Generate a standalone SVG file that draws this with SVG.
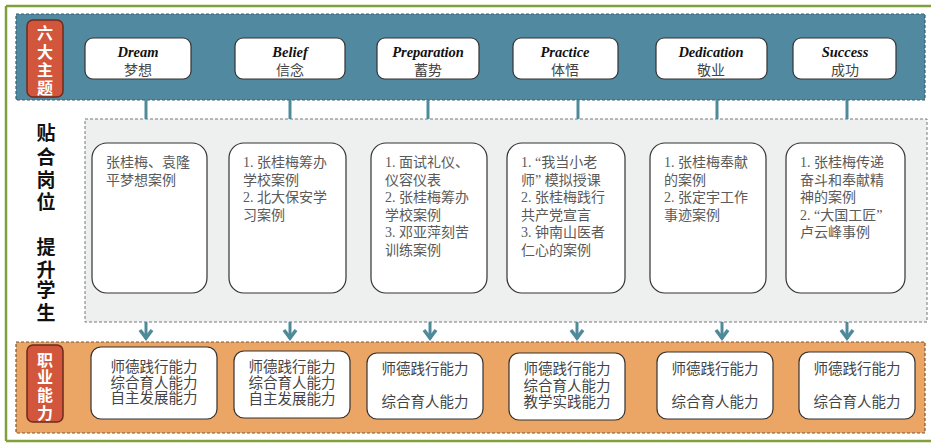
<svg xmlns="http://www.w3.org/2000/svg" width="931" height="444" viewBox="0 0 931 444">
<defs>
<style>
.frame{stroke:#7fa03a;stroke-width:2.5;fill:none}
.band-blue{fill:#5189a0;stroke:#3b5e6e;stroke-width:1.2;stroke-dasharray:3 2}
.band-orange{fill:#eba565;stroke:#6e5a48;stroke-width:1.2;stroke-dasharray:3 2}
.mid{fill:#eef0f0;stroke:#777;stroke-width:1;stroke-dasharray:3 2}
.tag{fill:#d2563b;stroke:#6e2a1c;stroke-width:1.5}
.tagtxt{font-family:"Liberation Serif","Noto Sans CJK SC",serif;font-size:16px;font-weight:bold;fill:#fff;text-anchor:middle}
.wbox{fill:#fff;stroke:#333;stroke-width:1.2}
.en{font-family:"Liberation Serif",serif;font-size:14.5px;font-weight:bold;font-style:italic;fill:#111;text-anchor:middle}
.zh{font-family:"Liberation Serif","Noto Sans CJK SC",serif;font-size:14px;fill:#444;text-anchor:middle}
.case{font-family:"Liberation Serif","Noto Sans CJK SC",serif;font-size:14px;fill:#5a5a5a}
.side{font-family:"Liberation Serif","Noto Sans CJK SC",serif;font-size:19px;font-weight:bold;fill:#111;text-anchor:middle}
.ab{font-family:"Liberation Serif","Noto Sans CJK SC",serif;font-size:14.5px;fill:#444;text-anchor:middle}
.conn{stroke:#4f8a9b;stroke-width:3;fill:none}
.head{stroke:#4f8a9b;stroke-width:3.5;fill:none;stroke-linejoin:miter}
</style>
</defs>

<g id="frame">
<line class="frame" x1="6" y1="6" x2="931" y2="6"/>
<line class="frame" x1="6" y1="6" x2="6" y2="441"/>
<line class="frame" x1="6" y1="441" x2="931" y2="441"/>
</g>

<g id="band-top">
<rect class="band-blue" x="16" y="14" width="909" height="86"/>
</g>
<g id="band-bottom">
<rect class="band-orange" x="16" y="342" width="909" height="91"/>
</g>
<g id="middle-region">
<rect class="mid" x="85" y="119" width="842" height="203"/>
</g>

<g id="connectors">
<line class="conn" x1="146" y1="100" x2="146" y2="119"/>
<line class="conn" x1="290" y1="100" x2="290" y2="119"/>
<line class="conn" x1="428" y1="100" x2="428" y2="119"/>
<line class="conn" x1="578" y1="100" x2="578" y2="119"/>
<line class="conn" x1="717" y1="100" x2="717" y2="119"/>
<line class="conn" x1="847" y1="100" x2="847" y2="119"/>
<line class="conn" x1="146" y1="322" x2="146" y2="339"/>
<polyline class="head" points="140,330 146,338 152,330"/>
<line class="conn" x1="290" y1="322" x2="290" y2="339"/>
<polyline class="head" points="284,330 290,338 296,330"/>
<line class="conn" x1="430" y1="322" x2="430" y2="339"/>
<polyline class="head" points="424,330 430,338 436,330"/>
<line class="conn" x1="577" y1="322" x2="577" y2="339"/>
<polyline class="head" points="571,330 577,338 583,330"/>
<line class="conn" x1="722" y1="322" x2="722" y2="339"/>
<polyline class="head" points="716,330 722,338 728,330"/>
<line class="conn" x1="847" y1="322" x2="847" y2="339"/>
<polyline class="head" points="841,330 847,338 853,330"/>
</g>

<g id="tag-themes">
<rect class="tag" x="27" y="20" width="36" height="77" rx="6"/>
<text class="tagtxt" x="45" y="39">六</text>
<text class="tagtxt" x="45" y="58">大</text>
<text class="tagtxt" x="45" y="76">主</text>
<text class="tagtxt" x="45" y="94">题</text>
</g>

<g id="theme-dream">
<rect class="wbox" x="85" y="38" width="106" height="41" rx="8"/>
<text class="en" x="138" y="57">Dream</text>
<text class="zh" x="138" y="75">梦想</text>
</g>
<g id="theme-belief">
<rect class="wbox" x="235" y="38" width="110" height="41" rx="8"/>
<text class="en" x="290" y="57">Belief</text>
<text class="zh" x="290" y="75">信念</text>
</g>
<g id="theme-preparation">
<rect class="wbox" x="377" y="38" width="102" height="41" rx="8"/>
<text class="en" x="428" y="57">Preparation</text>
<text class="zh" x="428" y="75">蓄势</text>
</g>
<g id="theme-practice">
<rect class="wbox" x="513" y="38" width="105" height="41" rx="8"/>
<text class="en" x="565" y="57">Practice</text>
<text class="zh" x="565" y="75">体悟</text>
</g>
<g id="theme-dedication">
<rect class="wbox" x="656" y="38" width="111" height="41" rx="8"/>
<text class="en" x="711" y="57">Dedication</text>
<text class="zh" x="711" y="75">敬业</text>
</g>
<g id="theme-success">
<rect class="wbox" x="793" y="38" width="103" height="41" rx="8"/>
<text class="en" x="845" y="57">Success</text>
<text class="zh" x="845" y="75">成功</text>
</g>

<g id="side-label">
<text class="side" x="46" y="140">贴</text>
<text class="side" x="46" y="164">合</text>
<text class="side" x="46" y="187">岗</text>
<text class="side" x="46" y="209">位</text>
<text class="side" x="46" y="254">提</text>
<text class="side" x="46" y="277">升</text>
<text class="side" x="46" y="297">学</text>
<text class="side" x="46" y="320">生</text>
</g>

<g id="case-dream">
<rect class="wbox" x="92" y="143" width="115" height="150" rx="15"/>
<text class="case" x="106" y="167">张桂梅、袁隆</text>
<text class="case" x="106" y="184.5">平梦想案例</text>
</g>
<g id="case-belief">
<rect class="wbox" x="229" y="143" width="117" height="150" rx="15"/>
<text class="case" x="243" y="167">1. 张桂梅筹办</text>
<text class="case" x="243" y="184.5">学校案例</text>
<text class="case" x="243" y="202">2. 北大保安学</text>
<text class="case" x="243" y="219.5">习案例</text>
</g>
<g id="case-preparation">
<rect class="wbox" x="371" y="143" width="116" height="150" rx="15"/>
<text class="case" x="385" y="167">1. 面试礼仪、</text>
<text class="case" x="385" y="184.5">仪容仪表</text>
<text class="case" x="385" y="202">2. 张桂梅筹办</text>
<text class="case" x="385" y="219.5">学校案例</text>
<text class="case" x="385" y="237">3. 邓亚萍刻苦</text>
<text class="case" x="385" y="254.5">训练案例</text>
</g>
<g id="case-practice">
<rect class="wbox" x="507" y="143" width="118" height="150" rx="15"/>
<text class="case" x="521" y="167">1. “我当小老</text>
<text class="case" x="521" y="184.5">师” 模拟授课</text>
<text class="case" x="521" y="202">2. 张桂梅践行</text>
<text class="case" x="521" y="219.5">共产党宣言</text>
<text class="case" x="521" y="237">3. 钟南山医者</text>
<text class="case" x="521" y="254.5">仁心的案例</text>
</g>
<g id="case-dedication">
<rect class="wbox" x="650" y="143" width="116" height="150" rx="15"/>
<text class="case" x="664" y="167">1. 张桂梅奉献</text>
<text class="case" x="664" y="184.5">的案例</text>
<text class="case" x="664" y="202">2. 张定宇工作</text>
<text class="case" x="664" y="219.5">事迹案例</text>
</g>
<g id="case-success">
<rect class="wbox" x="786" y="143" width="119" height="150" rx="15"/>
<text class="case" x="800" y="167">1. 张桂梅传递</text>
<text class="case" x="800" y="184.5">奋斗和奉献精</text>
<text class="case" x="800" y="202">神的案例</text>
<text class="case" x="800" y="219.5">2. “大国工匠”</text>
<text class="case" x="800" y="237">卢云峰事例</text>
</g>

<g id="tag-ability">
<rect class="tag" x="27" y="345" width="36" height="77" rx="6"/>
<text class="tagtxt" x="45" y="366">职</text>
<text class="tagtxt" x="45" y="383">业</text>
<text class="tagtxt" x="45" y="401">能</text>
<text class="tagtxt" x="45" y="419">力</text>
</g>

<g id="ability-dream">
<rect class="wbox" x="91" y="347" width="126" height="72" rx="10"/>
<text class="ab" x="154" y="372">师德践行能力</text>
<text class="ab" x="154" y="387.5">综合育人能力</text>
<text class="ab" x="154" y="403">自主发展能力</text>
</g>
<g id="ability-belief">
<rect class="wbox" x="234" y="351" width="116" height="67" rx="10"/>
<text class="ab" x="292" y="372">师德践行能力</text>
<text class="ab" x="292" y="388">综合育人能力</text>
<text class="ab" x="292" y="404">自主发展能力</text>
</g>
<g id="ability-preparation">
<rect class="wbox" x="367" y="353" width="116" height="66" rx="10"/>
<text class="ab" x="425" y="374">师德践行能力</text>
<text class="ab" x="425" y="407">综合育人能力</text>
</g>
<g id="ability-practice">
<rect class="wbox" x="509" y="353" width="116" height="67" rx="10"/>
<text class="ab" x="567" y="374">师德践行能力</text>
<text class="ab" x="567" y="391">综合育人能力</text>
<text class="ab" x="567" y="407">教学实践能力</text>
</g>
<g id="ability-dedication">
<rect class="wbox" x="657" y="352" width="116" height="67" rx="10"/>
<text class="ab" x="715" y="374">师德践行能力</text>
<text class="ab" x="715" y="407">综合育人能力</text>
</g>
<g id="ability-success">
<rect class="wbox" x="799" y="352" width="116" height="67" rx="10"/>
<text class="ab" x="857" y="374">师德践行能力</text>
<text class="ab" x="857" y="407">综合育人能力</text>
</g>
</svg>
